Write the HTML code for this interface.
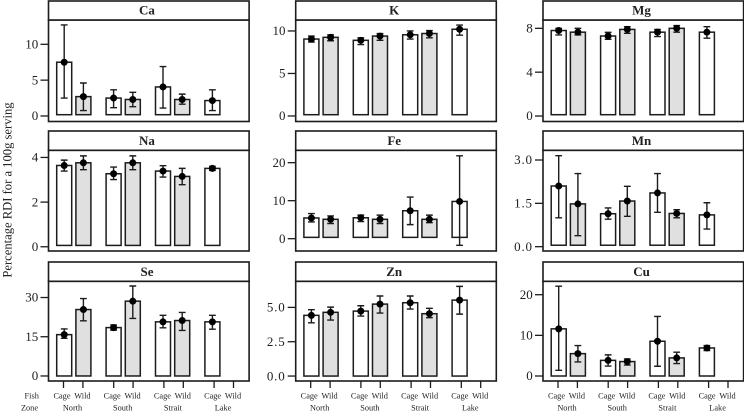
<!DOCTYPE html>
<html>
<head>
<meta charset="utf-8">
<title>Percentage RDI by fish type and zone</title>
<style>
html,body{margin:0;padding:0;background:#fff;width:744px;height:411px;overflow:hidden}
svg{display:block}
text{font-family:"Liberation Serif",serif;fill:#222}
</style>
</head>
<body>
<svg id="chart" xmlns="http://www.w3.org/2000/svg" width="744" height="411" viewBox="0 0 744 411">
<text transform="translate(11.5,190) rotate(-90)" text-anchor="middle" font-size="12.6">Percentage RDI for a 100g serving</text>
<text x="31.7" y="398.5" text-anchor="middle" font-size="8.3">Fish</text>
<text x="29.5" y="410.5" text-anchor="middle" font-size="8.3">Zone</text>
</svg>
<script>
// Categories
const fishTypes = ["Cage", "Wild", "Cage", "Wild", "Cage", "Wild", "Cage", "Wild"];
const zones = ["North", "South", "Strait", "Lake"];
const minerals = ["Ca", "K", "Mg", "Na", "Fe", "Mn", "Se", "Zn", "Cu"];

// Series: means, upper and lower error limits (North C/W, South C/W, Strait C/W, Lake C)
const caMean = [7.5, 2.7, 2.5, 2.3, 4.05, 2.3, 2.15];
const caHigh = [12.7, 4.6, 3.65, 3.3, 6.9, 3.05, 3.65];
const caLow = [2.5, 0.75, 1.15, 1.3, 1.1, 1.65, 0.75];
const kMean = [9.05, 9.25, 8.9, 9.4, 9.55, 9.7, 10.2];
const kHigh = [9.4, 9.55, 9.2, 9.7, 10, 10.05, 10.7];
const kLow = [8.7, 8.85, 8.4, 8.9, 9.05, 9.2, 9.5];
const mgMean = [7.8, 7.65, 7.3, 7.9, 7.65, 8.0, 7.65];
const mgHigh = [8, 8, 7.63, 8.15, 7.9, 8.25, 8.15];
const mgLow = [7.4, 7.4, 7.0, 7.55, 7.25, 7.65, 7.1];
const naMean = [3.64, 3.76, 3.27, 3.76, 3.39, 3.15, 3.51];
const naHigh = [3.88, 4.07, 3.57, 4.07, 3.63, 3.51, 3.6];
const naLow = [3.39, 3.45, 3.01, 3.45, 3.12, 2.78, 3.42];
const feMean = [5.45, 5.1, 5.5, 5.1, 7.35, 5.1, 9.8];
const feHigh = [6.6, 6, 6.2, 6.2, 10.95, 6.2, 21.8];
const feLow = [4.4, 4, 4.5, 4, 3.7, 4.2, -1.75];
const mnMean = [2.1, 1.48, 1.14, 1.58, 1.86, 1.15, 1.1];
const mnHigh = [3.15, 2.53, 1.34, 2.09, 2.53, 1.28, 1.52];
const mnLow = [1, 0.38, 0.95, 1.05, 1.19, 1, 0.61];
const seMean = [15.8, 25.4, 18.5, 28.6, 20.7, 21.2, 20.7];
const seHigh = [18, 29.6, 19.5, 34.4, 23.2, 24.3, 23.2];
const seLow = [14.4, 21.1, 17.5, 22, 18.4, 17.4, 17.9];
const znMean = [4.42, 4.64, 4.73, 5.24, 5.34, 4.54, 5.53];
const znHigh = [4.83, 5.02, 5.12, 5.83, 5.83, 4.93, 6.53];
const znLow = [3.88, 4.08, 4.37, 4.59, 4.88, 4.25, 4.51];
const cuMean = [11.6, 5.5, 3.85, 3.55, 8.55, 4.45, 6.9];
const cuHigh = [22.1, 7.5, 5.2, 4.2, 14.65, 5.85, 7.5];
const cuLow = [1.4, 3.45, 2.45, 2.7, 2.4, 3.05, 6.25];

// Bar bases
const barBases = [0.18, 0.15, 0.12, 0.06, 0.35, 0.05, 0, 0, 0];

// Y domains
const yDomains = [[-0.77, 13.39], [-0.65, 11.29], [-0.5, 8.76], [-0.19, 4.32], [-3.24, 23.26], [-0.15, 3.336], [-1.92, 36.2], [-0.36, 6.9], [-1.23, 23.3]];

// Tick labels
const caTicks = ["0", "5", "10"];
const kTicks = ["0", "5", "10"];
const mgTicks = ["0", "4", "8"];
const naTicks = ["0", "2", "4"];
const feTicks = ["0", "10", "20"];
const mnTicks = ["0.0", "1.5", "3.0"];
const seTicks = ["0", "15", "30"];
const znTicks = ["0.0", "2.5", "5.0"];
const cuTicks = ["0", "10", "20"];

const means = [caMean, kMean, mgMean, naMean, feMean, mnMean, seMean, znMean, cuMean];
const highs = [caHigh, kHigh, mgHigh, naHigh, feHigh, mnHigh, seHigh, znHigh, cuHigh];
const lows = [caLow, kLow, mgLow, naLow, feLow, mnLow, seLow, znLow, cuLow];
const ticks = [caTicks, kTicks, mgTicks, naTicks, feTicks, mnTicks, seTicks, znTicks, cuTicks];

const svg = document.getElementById("chart");
const NS = "http://www.w3.org/2000/svg";
const INK = "#1c1c1c";
const colLeft = [48.5, 295.7, 543];
const colWidth = 200.6;
const rowStrip = [1, 131, 262];
const rowTop = [20, 150.3, 281.3];
const rowBottom = [121.5, 251, 381];

function mk(tag, attrs, text) {
  const el = document.createElementNS(NS, tag);
  for (const k in attrs) el.setAttribute(k, attrs[k]);
  if (text !== undefined) el.textContent = text;
  svg.appendChild(el);
  return el;
}
function barX(left, i) {
  return left + 15.7 + Math.floor(i / 2) * 49.4 + (i % 2) * 19.2;
}
function tickX(left, i) {
  return left + 15 + Math.floor(i / 2) * 50.2 + (i % 2) * 19.4;
}
function yScale(m, r, v) {
  const d = yDomains[m];
  return rowBottom[r] - (v - d[0]) / (d[1] - d[0]) * (rowBottom[r] - rowTop[r]);
}

minerals.forEach(function (name, m) {
  const r = Math.floor(m / 3);
  const c = m % 3;
  const left = colLeft[c];
  const y = function (v) { return yScale(m, r, v); };

  const bg = mk("rect", { x: left, y: rowTop[r], width: colWidth, height: rowBottom[r] - rowTop[r], fill: "#fff", stroke: "none" });
  
  

  means[m].forEach(function (v, i) {
    const cx = barX(left, i);
    const bar = mk("rect", { x: cx - 7.5, y: y(v), width: 15, height: Math.max(0, y(barBases[m]) - y(v)), fill: i % 2 ? "#e0e0e0" : "#fff", stroke: INK, "stroke-width": 1.5 });
    
    
  });

  means[m].forEach(function (v, i) {
    const cx = barX(left, i);
    const hi = y(highs[m][i]);
    const lo = y(lows[m][i]);
    const err = mk("path", { d: "M" + (cx - 3.4) + " " + hi + "H" + (cx + 3.4) + "M" + cx + " " + hi + "V" + lo + "M" + (cx - 3.4) + " " + lo + "H" + (cx + 3.4), fill: "none", stroke: INK, "stroke-width": 1.4 });
    
    
    const pt = mk("circle", { cx: cx, cy: y(v), r: 3.5, fill: "#000" });
    
    
  });

  const frame = mk("rect", { x: left, y: rowTop[r], width: colWidth, height: rowBottom[r] - rowTop[r], fill: "none", stroke: INK, "stroke-width": 1.6 });
  
  

  const strip = mk("rect", { x: left, y: rowStrip[r], width: colWidth, height: rowTop[r] - rowStrip[r], fill: "#fff", stroke: INK, "stroke-width": 1.6 });
  
  

  const title = mk("text", { x: left + 98.5, y: rowTop[r] - 5.5, "text-anchor": "middle", "font-size": 13, "font-weight": "bold" }, name);
  
  

  ticks[m].forEach(function (label) {
    const ty = y(parseFloat(label));
    const tk = mk("line", { x1: left - 8, x2: left, y1: ty, y2: ty, stroke: INK, "stroke-width": 1.3 });
    
    
    const tl = mk("text", { x: left - 10.2, y: ty + 4.2, "text-anchor": "end", "font-size": 13, "letter-spacing": label.length > 2 ? 0.8 : 0 }, label);
    
    
  });

  if (r === 2) {
    fishTypes.forEach(function (fish, i) {
      const tx = tickX(left, i);
      const tk = mk("line", { x1: tx, x2: tx, y1: rowBottom[r], y2: rowBottom[r] + 7, stroke: INK, "stroke-width": 1.3 });
      
      
      const tl = mk("text", { x: tx - (i % 2 ? 0.5 : 1.5), y: 398.5, "text-anchor": "middle", "font-size": 8.3 }, fish);
      
      
    });
    zones.forEach(function (zone, g) {
      const zl = mk("text", { x: left + 24 + g * 50.2, y: 410.5, "text-anchor": "middle", "font-size": 8.3 }, zone);
      
      
    });
  }
});
</script>
</body>
</html>
